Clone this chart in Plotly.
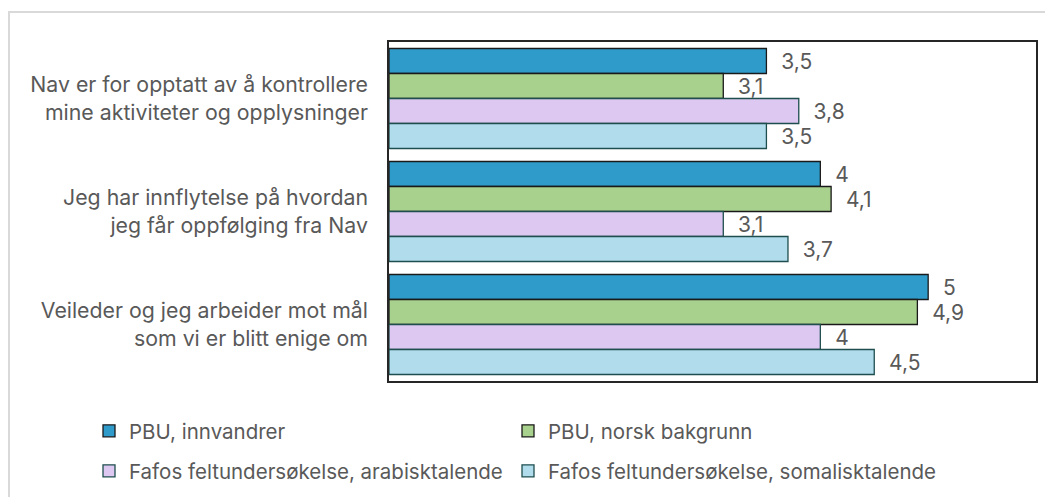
import plotly.graph_objects as go

categories = [
    "Nav er for opptatt av å kontrollere<br>mine aktiviteter og opplysninger",
    "Jeg har innflytelse på hvordan<br>jeg får oppfølging fra Nav",
    "Veileder og jeg arbeider mot mål<br>som vi er blitt enige om",
]
series_names = [
    "PBU, innvandrer",
    "PBU, norsk bakgrunn",
    "Fafos feltundersøkelse, arabisktalende",
    "Fafos feltundersøkelse, somalisktalende",
]
pbu_innvandrer = [3.5, 4.0, 5.0]
pbu_norsk = [3.1, 4.1, 4.9]
fafo_arabisk = [3.8, 3.1, 4.0]
fafo_somalisk = [3.5, 3.7, 4.5]

series_values = [pbu_innvandrer, pbu_norsk, fafo_arabisk, fafo_somalisk]
fill_colors = ["#2E9BCB", "#A9D18E", "#DCC8F0", "#B0DCEC"]
line_colors = ["#1A1A1A", "#1A1A1A", "#1F4E4E", "#1F4E4E"]
legend_ids = ["legend", "legend2", "legend3", "legend4"]

FONT = "Inter, Noto Sans, sans-serif"
TXT = "#595959"
FS = 21.3
LFS = 20.5

def fmt(v):
    s = ("%g" % v).replace(".", ",")
    return "\u00a0\u00a0" + s

fig = go.Figure()
for name, vals, fc, lc, lg in zip(series_names, series_values, fill_colors, line_colors, legend_ids):
    fig.add_trace(go.Bar(
        y=categories, x=vals, name=name, orientation="h",
        marker=dict(color=fc, line=dict(color=lc, width=1.3)),
        text=[fmt(v) for v in vals], textposition="outside",
        textfont=dict(family=FONT, size=21, color=TXT),
        cliponaxis=False, legend=lg,
    ))

# page body has an 8px margin: work in screenshot pixels, subtract offset
OFF = 8
W, H = 1053 - OFF, 497 - OFF
PL, PR, PT, PB = 389, 1036, 42, 381  # plot area in screenshot px
L, R, T, B = PL - OFF, W - (PR - OFF), PT - OFF, H - (PB - OFF)
pw, ph = PR - PL, PB - PT

def px_x(x):
    return (x - PL) / pw

def px_y(y):
    return (PB - y) / ph

leg_common = dict(orientation="h", xanchor="left", yanchor="middle", itemwidth=30,
                  font=dict(family=FONT, size=LFS, color=TXT), bgcolor="rgba(0,0,0,0)")

leg_pos = [(89, 431), (508, 431), (89, 471), (508, 471)]
legend_layout = {}
for lg, (lx, ly) in zip(legend_ids, leg_pos):
    legend_layout[lg] = dict(x=px_x(lx), y=px_y(ly), **leg_common)

fig.update_layout(
    width=W, height=H,
    margin=dict(l=L, r=R, t=T, b=B, autoexpand=False),
    paper_bgcolor="white", plot_bgcolor="white",
    barmode="group", bargap=0.115, bargroupgap=0,
    font=dict(family=FONT, size=FS, color=TXT),
    showlegend=True,
    xaxis=dict(range=[0, 6], showgrid=False, zeroline=False, showticklabels=False,
               showline=True, linecolor="#262626", linewidth=1.5, mirror=True, ticks=""),
    yaxis=dict(autorange="reversed", showgrid=False, zeroline=False,
               showline=True, linecolor="#262626", linewidth=1.5, mirror=True,
               ticks="", ticklabelstandoff=15,
               tickfont=dict(family=FONT, size=FS, color=TXT)),
    shapes=[dict(type="rect", xref="paper", yref="paper",
                 x0=px_x(9), x1=px_x(1070), y0=px_y(520), y1=px_y(12),
                 line=dict(color="#D9D9D9", width=2), fillcolor="rgba(0,0,0,0)", layer="below")],
    **legend_layout,
)

fig.write_html("out.html")
